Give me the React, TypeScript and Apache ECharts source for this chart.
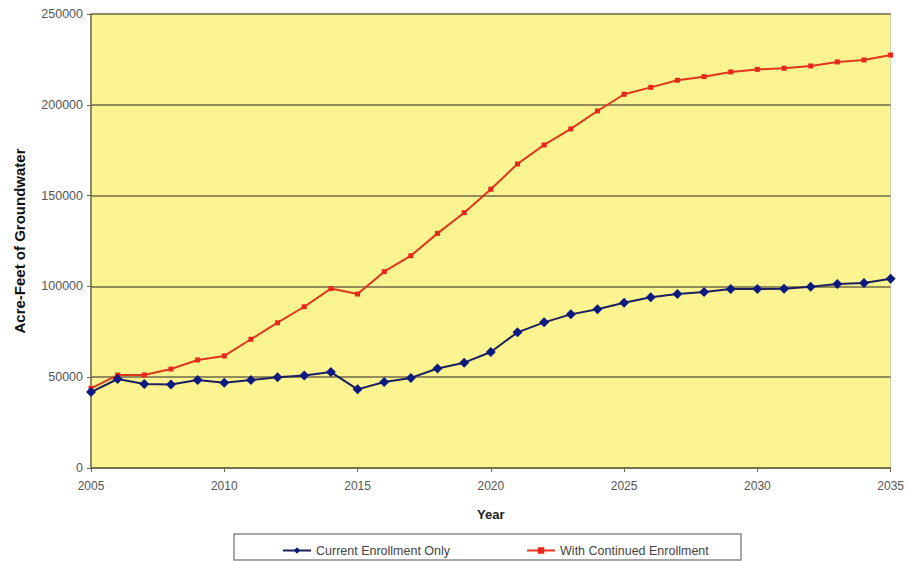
import React, { useEffect, useRef } from "react";
import * as echarts from "echarts";

const years = [2005,2006,2007,2008,2009,2010,2011,2012,2013,2014,2015,2016,2017,2018,2019,2020,2021,2022,2023,2024,2025,2026,2027,2028,2029,2030,2031,2032,2033,2034,2035];
const currentEnrollment = [41800,49000,46200,46000,48400,47000,48400,50000,51000,52800,43300,47400,49600,54800,58000,63900,74700,80200,84600,87400,91000,94000,95800,96900,98600,98600,98700,99800,101300,101900,104200];
const continuedEnrollment = [43900,51200,51200,54500,59500,61700,70900,80000,88800,98800,95800,108100,116900,129200,140600,153500,167400,177900,186700,196600,205800,209600,213500,215500,218100,219500,220100,221400,223600,224700,227400];
const seriesNames = ["Current Enrollment Only", "With Continued Enrollment"];

const FONT = "'Liberation Sans', Arial, sans-serif";

export default function App() {
  const ref = useRef<HTMLDivElement>(null);
  useEffect(() => {
    if (!ref.current) return;
    const chart = echarts.init(ref.current, null, { renderer: "svg" });
    chart.setOption({
      animation: false,
      textStyle: { fontFamily: FONT },
      grid: {
        left: 91, right: 14, top: 14, bottom: 93,
        show: true, backgroundColor: "#fcf391", borderColor: "#cfcbb0", borderWidth: 1,
      },
      legend: {
        data: seriesNames,
        left: 277, top: 539,
        itemWidth: 28, itemHeight: 8, itemGap: 76,
        textStyle: { fontFamily: FONT, fontSize: 12.5, color: "#444" },
      },
      graphic: [
        { type: "rect", shape: { x: 234, y: 534, width: 507, height: 26 }, style: { fill: "none", stroke: "#8a8a8a", lineWidth: 1.5 }, z: -1 },
      ],
      xAxis: {
        type: "value", min: 2005, max: 2035, interval: 5,
        name: "Year", nameLocation: "middle", nameGap: 40,
        nameTextStyle: { fontFamily: FONT, fontSize: 13, fontWeight: "bold", color: "#222" },
        axisLine: { lineStyle: { color: "#6e6a48", width: 1.5 } },
        axisTick: { show: true, length: 4, lineStyle: { color: "#6e6a48" } },
        axisLabel: { color: "#555", fontSize: 12, margin: 12, fontFamily: FONT, formatter: (v: number) => String(v) },
        splitLine: { show: false },
      },
      yAxis: {
        type: "value", min: 0, max: 250000, interval: 50000,
        name: "Acre-Feet of Groundwater", nameLocation: "middle", nameGap: 64,
        nameTextStyle: { fontFamily: FONT, fontSize: 15, fontWeight: "bold", color: "#111" },
        axisLine: { show: true, lineStyle: { color: "#6e6a48", width: 1.5 } },
        axisTick: { show: true, length: 4, lineStyle: { color: "#6e6a48" } },
        axisLabel: { color: "#555", fontSize: 12.5, margin: 8, fontFamily: FONT, formatter: (v: number) => String(v) },
        splitLine: { show: true, lineStyle: { color: "#6e6a48", width: 1.5 } },
      },
      series: [
        {
          name: seriesNames[1], type: "line", z: 2,
          data: years.map((y, i) => [y, continuedEnrollment[i]]),
          symbol: "rect", symbolSize: 5,
          lineStyle: { color: "#e0371c", width: 2 },
          itemStyle: { color: "#e8261c" },
        },
        {
          name: seriesNames[0], type: "line", z: 3,
          data: years.map((y, i) => [y, currentEnrollment[i]]),
          symbol: "diamond", symbolSize: 10,
          lineStyle: { color: "#1c1f5e", width: 2 },
          itemStyle: { color: "#0d1a80" },
        },
      ],
    });
    return () => chart.dispose();
  }, []);
  return <div ref={ref} style={{ width: 907, height: 561, position: "absolute", left: 0, top: 0 }} />;
}
